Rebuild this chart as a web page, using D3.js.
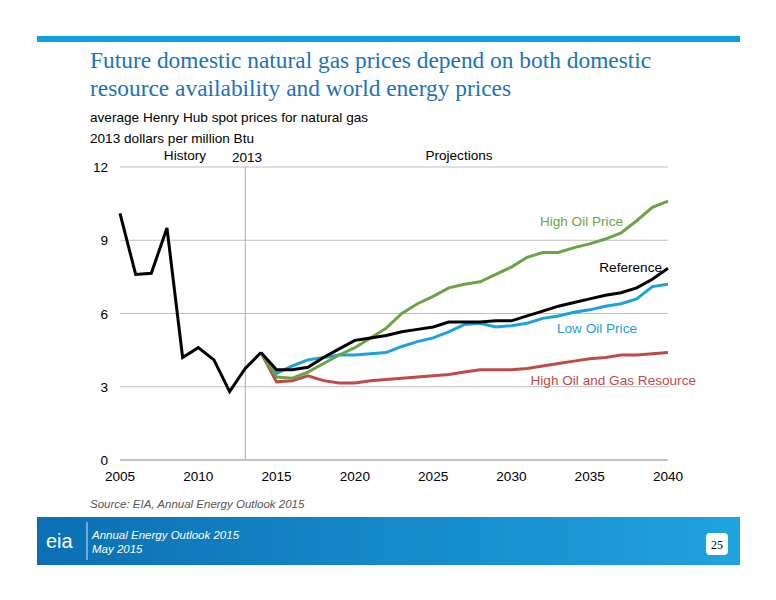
<!DOCTYPE html><html><head><meta charset="utf-8"><script src="https://cdn.jsdelivr.net/npm/d3@7"></script>
<style>body{margin:0;background:#fff}</style></head><body><svg id="c" width="776" height="600"></svg>
<script>
const histYears=d3.range(2005,2015);
const histVals=[10.1,7.6,7.65,9.5,4.2,4.6,4.1,2.8,3.75,4.4];
const projYears=d3.range(2014,2041);
const reference=[4.4,3.7,3.7,3.8,4.2,4.55,4.9,5.0,5.1,5.25,5.35,5.45,5.65,5.65,5.65,5.7,5.7,5.9,6.1,6.3,6.45,6.6,6.75,6.85,7.05,7.4,7.85];
const highOil=[4.4,3.4,3.35,3.6,3.95,4.3,4.6,5.0,5.4,6.0,6.4,6.7,7.05,7.2,7.3,7.6,7.9,8.3,8.5,8.5,8.7,8.85,9.05,9.3,9.8,10.35,10.6];
const lowOil=[4.4,3.55,3.85,4.1,4.2,4.3,4.3,4.35,4.4,4.65,4.85,5.0,5.25,5.55,5.6,5.45,5.5,5.6,5.8,5.9,6.05,6.15,6.3,6.4,6.6,7.1,7.2];
const highRes=[4.4,3.2,3.25,3.45,3.25,3.15,3.15,3.25,3.3,3.35,3.4,3.45,3.5,3.6,3.7,3.7,3.7,3.75,3.85,3.95,4.05,4.15,4.2,4.3,4.3,4.35,4.4];
const xTicks=[2005,2010,2015,2020,2025,2030,2035,2040];
const yTicks=[0,3,6,9,12];
const svg=d3.select("#c");
const F="Liberation Sans, Arial, sans-serif";
const FS=13.6;
svg.append("rect").attr("x",37).attr("y",36).attr("width",703).attr("height",6).attr("fill","#0fa1de");
svg.append("text").attr("x",90).attr("y",68).attr("font-family","Liberation Serif, serif").attr("font-size",23.4).attr("fill","#1a73ba").text("Future domestic natural gas prices depend on both domestic");
svg.append("text").attr("x",90).attr("y",96).attr("font-family","Liberation Serif, serif").attr("font-size",23.4).attr("fill","#1a73ba").text("resource availability and world energy prices");
svg.append("text").attr("x",90).attr("y",122).attr("font-family",F).attr("font-size",FS).text("average Henry Hub spot prices for natural gas");
svg.append("text").attr("x",90).attr("y",143).attr("font-family",F).attr("font-size",FS).text("2013 dollars per million Btu");
const x=d3.scaleLinear().domain([2005,2040]).range([120,668]);
const y=d3.scaleLinear().domain([0,12]).range([460,167]);
const g=svg.append("g");
yTicks.forEach(t=>{ if(t>0) g.append("line").attr("x1",120).attr("x2",668).attr("y1",y(t)).attr("y2",y(t)).attr("stroke","#bfbfbf");
 g.append("text").attr("x",108).attr("y",y(t)+5).attr("text-anchor","end").attr("font-family",F).attr("font-size",FS).text(t);});
g.append("line").attr("x1",120).attr("x2",668).attr("y1",y(0)).attr("y2",y(0)).attr("stroke","#888");
xTicks.forEach(t=>g.append("text").attr("x",x(t)).attr("y",481).attr("text-anchor","middle").attr("font-family",F).attr("font-size",FS).text(t));
g.append("line").attr("x1",x(2013)).attr("x2",x(2013)).attr("y1",y(12)).attr("y2",y(0)).attr("stroke","#aaa");
g.append("text").attr("x",185).attr("y",160).attr("text-anchor","middle").attr("font-family",F).attr("font-size",FS).text("History");
g.append("text").attr("x",247).attr("y",162).attr("text-anchor","middle").attr("font-family",F).attr("font-size",FS).text("2013");
g.append("text").attr("x",459).attr("y",160).attr("text-anchor","middle").attr("font-family",F).attr("font-size",FS).text("Projections");
const line=d3.line().x(d=>x(d[0])).y(d=>y(d[1]));
const series=[[highRes,"#be4b48"],[lowOil,"#1ba1dc"],[highOil,"#6aa446"],[reference,"#000"]];
series.forEach(([v,c])=>g.append("path").attr("d",line(projYears.map((yr,i)=>[yr,v[i]]))).attr("fill","none").attr("stroke",c).attr("stroke-width",3));
g.append("path").attr("d",line(histYears.map((yr,i)=>[yr,histVals[i]]))).attr("fill","none").attr("stroke","#000").attr("stroke-width",3);
[["High Oil Price",623,226,"#6aa446"],["Reference",662,272,"#000"],["Low Oil Price",637,333,"#1ba1dc"],["High Oil and Gas Resource",696,385,"#be4b48"]].forEach(([t,xx,yy,c])=>
 g.append("text").attr("x",xx).attr("y",yy).attr("text-anchor","end").attr("font-family",F).attr("font-size",FS).attr("fill",c).text(t));
svg.append("text").attr("x",90).attr("y",508).attr("font-family",F).attr("font-size",11.5).attr("font-style","italic").attr("fill","#555").text("Source:  EIA, Annual Energy Outlook 2015");
const gr=svg.append("defs").append("linearGradient").attr("id","fg");
gr.append("stop").attr("offset","0").attr("stop-color","#0b6fb4");gr.append("stop").attr("offset","1").attr("stop-color","#1fa3de");
svg.append("rect").attr("x",37).attr("y",517).attr("width",703).attr("height",48).attr("fill","url(#fg)");
svg.append("text").attr("x",46).attr("y",548).attr("font-family",F).attr("font-size",20).attr("fill","#fff").text("eia");
svg.append("line").attr("x1",87).attr("x2",87).attr("y1",522).attr("y2",560).attr("stroke","#cfe8f7");
svg.append("text").attr("x",92).attr("y",539).attr("font-family",F).attr("font-size",11.5).attr("font-style","italic").attr("fill","#fff").text("Annual Energy Outlook 2015");
svg.append("text").attr("x",92).attr("y",553).attr("font-family",F).attr("font-size",11.5).attr("font-style","italic").attr("fill","#fff").text("May 2015");
svg.append("rect").attr("x",706).attr("y",533).attr("width",22).attr("height",22).attr("rx",4).attr("fill","#fff");
svg.append("text").attr("x",717).attr("y",549).attr("text-anchor","middle").attr("font-family","Liberation Serif, serif").attr("font-size",12).text("25");
</script></body></html>
